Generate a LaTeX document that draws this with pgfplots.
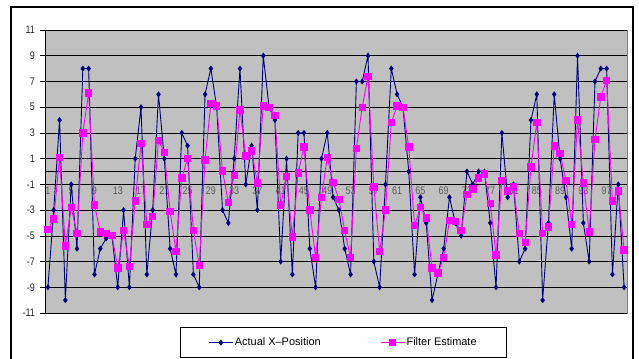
\documentclass[border=0pt]{standalone}
\usepackage{pgfplots}
\pgfplotsset{compat=1.18}
\usepackage{fontspec}
\setmainfont{Liberation Sans}
\newfontfamily\narrowfont{Liberation Sans}[FakeStretch=0.82]
\definecolor{bggray}{HTML}{C0C0C0}
\definecolor{bordergray}{HTML}{808080}
\definecolor{actualblue}{HTML}{000080}
\definecolor{filtermag}{HTML}{FF00FF}

\pgfplotstableread{
i a f
1 -9 -4.5
2 -3 -3.7
3 4 1.1
4 -10 -5.8
5 -1 -2.8
6 -6 -4.8
7 8 3.0
8 8 6.1
9 -8 -2.6
10 -6 -4.7
11 -5.2 -4.8
12 -5 -4.95
13 -9 -7.5
14 -3 -4.6
15 -9 -7.4
16 1 -2.3
17 5 2.2
18 -8 -4.1
19 -3 -3.5
20 6 2.4
21 1 1.5
22 -6 -3.1
23 -8 -6.2
24 3 -0.5
25 2 1.0
26 -8 -4.6
27 -9 -7.3
28 6 0.9
29 8 5.3
30 5 5.1
31 -3 0.05
32 -4 -2.4
33 1 -0.3
34 8 4.8
35 -1 1.2
36 2 1.6
37 -3 -0.9
38 9 5.1
39 5 5.0
40 4 4.35
41 -7 -2.6
42 1 -0.4
43 -8 -5.1
44 3 -0.1
45 3 1.9
46 -6 -3.0
47 -9 -6.7
48 1 -2.0
49 3 1.1
50 -2 -0.85
51 -3 -2.15
52 -6 -4.6
53 -8 -6.7
54 7 1.8
55 7 5.0
56 9 7.4
57 -7 -1.2
58 -9 -6.2
59 -1 -3.0
60 8 3.8
61 6 5.1
62 5 5.0
63 0 1.9
64 -8 -4.2
65 -2 -2.8
66 -4 -3.6
67 -10 -7.5
68 -8 -7.9
69 -6 -6.7
70 -2 -3.8
71 -4 -3.9
72 -5 -4.6
73 0 -1.8
74 -1 -1.35
75 0 -0.5
76 0 -0.2
77 -4 -2.5
78 -9 -6.5
79 3 -0.7
80 -2 -1.5
81 -1 -1.2
82 -7 -4.8
83 -6 -5.5
84 4 0.35
85 6 3.8
86 -10 -4.8
87 -4 -4.3
88 6 2.0
89 1 1.4
90 -2 -0.7
91 -6 -4.1
92 9 4.0
93 -4 -0.9
94 -7 -4.7
95 7 2.5
96 8 5.8
97 8 7.1
98 -8 -2.3
99 -1 -1.5
100 -9 -6.1
}\datatable

\begin{document}
\begin{tikzpicture}
\useasboundingbox (0,0) rectangle (639bp,359bp);
\clip (0,0) rectangle (639bp,359bp);
\fill[white] (0,0) rectangle (639bp,359bp);
\draw[black, line width=1.3bp] (11bp,352bp) rectangle (633bp,-10bp);
\begin{axis}[
  at={(45bp,46bp)}, anchor=south west,
  scale only axis, width=582bp, height=283bp,
  xmin=0.5, xmax=100.5, ymin=-11, ymax=11,
  axis x line=middle, axis y line=left,
  x axis line style={-, black, line width=0.8bp},
  y axis line style={-, black, line width=0.8bp},
  axis background/.style={fill=bggray, draw=bordergray, line width=0.8bp},
  ytick={-11,-9,...,11},
  ymajorgrids, grid style={black, line width=0.6bp},
  xtick={1,5,...,97},
  minor xtick={0.5,1.5,...,100.5},
  hide obscured x ticks=false,
  tick align=center,
  major tick length=5bp, minor tick length=5bp,
  xtick style={draw=none},
  minor x tick style={black, line width=0.5bp, yshift=2.5bp},
  ytick style={black, line width=0.6bp, xshift=-2.5bp},
  /pgf/number format/assume math mode=true,
  xticklabel style={font=\narrowfont\fontsize{11}{12}\selectfont, text=black!65, yshift=-9bp},
  yticklabel style={font=\narrowfont\fontsize{11}{12}\selectfont, text=black!85, xshift=-4bp},
  legend columns=2,
  legend style={at={(0.232,-0.0495)}, anchor=north west, draw=black, line width=0.8bp, fill=white,
    font=\fontsize{11}{13}\selectfont, inner xsep=28bp, inner ysep=9bp,
    /tikz/every even column/.append style={column sep=58bp},
    nodes={inner sep=1.5bp}},
  legend image code/.code={\draw[mark repeat=2,mark phase=2,#1] plot coordinates {(0bp,0bp) (12bp,0bp) (24bp,0bp)};},
]
\addplot[actualblue, line width=0.9bp, mark=diamond*, mark size=2.3bp, mark options={fill=actualblue}] table[x=i, y=a] {\datatable};
\addlegendentry{Actual X--Position}
\addplot[filtermag, line width=0.9bp, mark=square*, mark size=3.2bp, mark options={fill=filtermag}] table[x=i, y=f] {\datatable};
\addlegendentry{Filter Estimate}
\end{axis}
\end{tikzpicture}
\end{document}
